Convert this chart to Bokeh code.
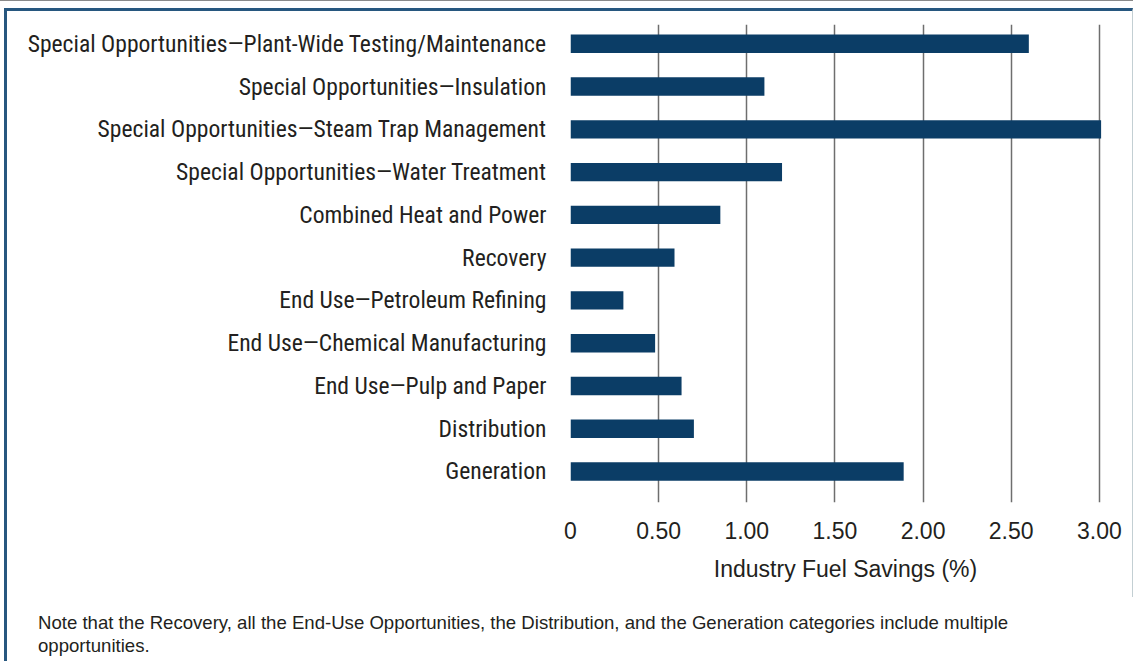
from bokeh.plotting import figure
from bokeh.models import FixedTicker, ColumnDataSource, Div
from bokeh.layouts import column
from bokeh.embed import file_html
from bokeh.resources import INLINE

categories = [
    "Generation",
    "Distribution",
    "End Use\u2014Pulp and Paper",
    "End Use\u2014Chemical Manufacturing",
    "End Use\u2014Petroleum Refining",
    "Recovery",
    "Combined Heat and Power",
    "Special Opportunities\u2014Water Treatment",
    "Special Opportunities\u2014Steam Trap Management",
    "Special Opportunities\u2014Insulation",
    "Special Opportunities\u2014Plant-Wide Testing/Maintenance",
]
savings = [1.89, 0.70, 0.63, 0.48, 0.30, 0.59, 0.85, 1.20, 3.01, 1.10, 2.60]
x_ticks = [0, 0.5, 1.0, 1.5, 2.0, 2.5, 3.0]
x_tick_labels = ["0", "0.50", "1.00", "1.50", "2.00", "2.50", "3.00"]
x_title = "Industry Fuel Savings (%)"
note_lines = [
    "Note that the Recovery, all the End-Use Opportunities, the Distribution, and the Generation categories include multiple",
    "opportunities.",
]

BAR = "#0b3d66"
TXT = "#231f20"
BORDER = "#27577f"
NARROW = "Roboto Condensed"
SANS = "Liberation Sans"

positions = list(range(len(categories)))
src = ColumnDataSource(dict(y=positions, v=savings))

p = figure(
    width=1129, height=589,
    x_range=(0, 3.12), y_range=(-0.725, 10.451),
    output_backend="svg", toolbar_location=None,
    min_border_left=563, min_border_right=16, min_border_top=13, min_border_bottom=98,
)
p.margin = (7, 0, 0, 4)
p.styles = {
    "border-top": f"3px solid {BORDER}",
    "border-left": f"3px solid {BORDER}",
    "border-right": "1px solid #c3cfd3",
}
p.outline_line_color = None

p.hbar(y="y", right="v", left=0, height=0.43, source=src, color=BAR, line_color=None)

p.ygrid.grid_line_color = None
p.xgrid.ticker = FixedTicker(ticks=x_ticks)
p.xgrid.grid_line_color = "#6e6e6e"
p.xgrid.grid_line_width = 1.5

xa = p.xaxis[0]
xa.ticker = FixedTicker(ticks=x_ticks)
xa.major_label_overrides = {t: l for t, l in zip(x_ticks, x_tick_labels)}
xa.axis_line_color = None
xa.major_tick_line_color = None
xa.minor_tick_line_color = None
xa.major_label_text_font = SANS
xa.major_label_text_font_size = "23px"
xa.major_label_text_color = TXT
xa.major_label_standoff = 13
xa.axis_label = x_title
xa.axis_label_text_font = SANS
xa.axis_label_text_font_size = "23px"
xa.axis_label_text_font_style = "normal"
xa.axis_label_text_color = TXT
xa.axis_label_standoff = 14

ya = p.yaxis[0]
ya.ticker = FixedTicker(ticks=positions)
ya.major_label_overrides = {i: c for i, c in zip(positions, categories)}
ya.axis_line_color = None
ya.major_tick_line_color = None
ya.minor_tick_line_color = None
ya.major_label_text_font = NARROW
ya.major_label_text_font_size = "23.6px"
ya.major_label_text_color = TXT
ya.major_label_standoff = 18

note_html = (
    '<div style="padding-top:15px; padding-left:31px; white-space:nowrap; '
    f'font-family:{SANS}; font-size:18.6px; line-height:22.5px; color:{TXT};">'
    + "<br>".join(note_lines)
    + "</div>"
)
note = Div(
    text=note_html,
    width=1100, height=64,
    margin=(0, 0, 0, 4),
    styles={"border-left": f"3px solid {BORDER}"},
)

layout = column(p, note, spacing=0, styles={"border-top": "1px solid #8a8a8a"})
open("out.html", "w").write(file_html(layout, INLINE))
